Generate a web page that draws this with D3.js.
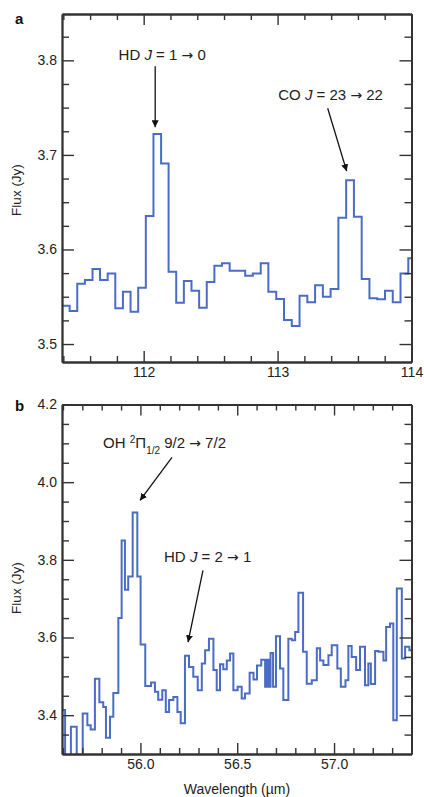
<!DOCTYPE html>
<html><head><meta charset="utf-8">
<script src="https://cdn.jsdelivr.net/npm/d3@7"></script>
<style>
html,body{margin:0;padding:0;background:#fff;}
svg{display:block;font-family:"Liberation Sans",Arial,Helvetica,sans-serif;}
</style></head>
<body>
<svg id="c" width="424" height="797"></svg>
<script>
// ---------- Panel a data (bin start wavelength, µm ; flux, Jy) ----------
const waveA = [111.390,111.447,111.504,111.561,111.618,111.674,111.731,111.788,111.845,111.902,
  111.959,112.016,112.073,112.130,112.186,112.243,112.300,112.357,112.414,112.471,112.528,112.585,
  112.642,112.699,112.758,112.815,112.874,112.931,112.990,113.048,113.106,113.164,113.222,113.280,
  113.338,113.396,113.454,113.512,113.570,113.628,113.686,113.744,113.802,113.860,113.918,113.976];
const fluxA = [3.5405,3.535,3.5638,3.5677,3.5793,3.5677,3.5747,3.5378,3.5553,3.5342,
  3.5596,3.6353,3.7222,3.691,3.5765,3.5437,3.5666,3.5564,3.5385,3.5656,3.5828,3.5853,
  3.5775,3.5775,3.5722,3.5747,3.5853,3.5553,3.5476,3.5254,3.5191,3.5511,3.5441,3.5621,
  3.5501,3.5582,3.6335,3.6733,3.6345,3.5687,3.5483,3.5473,3.5564,3.5441,3.5747,3.5906];
const waveAEnd = 114.034;

// ---------- Panel b data ----------
const waveB = [55.589,55.611,55.641,55.671,55.702,55.726,55.743,55.765,55.788,55.808,
  55.822,55.843,55.860,55.886,55.903,55.920,55.937,55.960,55.984,56.001,
  56.025,56.055,56.075,56.092,56.113,56.131,56.148,56.170,56.191,56.208,
  56.230,56.251,56.273,56.296,56.317,56.334,56.354,56.377,56.394,56.411,
  56.428,56.446,56.463,56.480,56.502,56.523,56.540,56.564,56.584,56.602,
  56.624,56.644,56.654,56.664,56.672,56.685,56.700,56.721,56.738,56.764,
  56.782,56.799,56.816,56.840,56.859,56.885,56.911,56.928,56.945,56.971,
  56.988,57.017,57.035,57.059,57.074,57.091,57.114,57.134,57.160,57.177,
  57.190,57.212,57.229,57.255,57.269,57.289,57.306,57.324,57.350,57.367,57.389];
const fluxB = [3.413,3.25,3.370,3.25,3.404,3.374,3.363,3.494,3.433,3.421,
  3.342,3.396,3.457,3.650,3.850,3.723,3.757,3.922,3.757,3.582,
  3.475,3.484,3.460,3.440,3.464,3.408,3.439,3.447,3.408,3.379,
  3.553,3.524,3.499,3.464,3.533,3.567,3.597,3.516,3.464,3.531,
  3.518,3.541,3.559,3.464,3.473,3.443,3.456,3.509,3.492,3.528,
  3.543,3.473,3.543,3.473,3.560,3.473,3.603,3.520,3.439,3.597,
  3.593,3.614,3.715,3.563,3.481,3.490,3.572,3.541,3.529,3.554,
  3.580,3.520,3.473,3.490,3.578,3.550,3.516,3.576,3.477,3.533,
  3.480,3.565,3.563,3.541,3.627,3.636,3.387,3.726,3.546,3.576,3.567];
const waveBEnd = 57.41;

// ---------- Tick values ----------
const xMajorA = [112, 113, 114];
const yMajorA = [3.5, 3.6, 3.7, 3.8];
const xMajorB = [56.0, 56.5, 57.0];
const yMajorB = [3.4, 3.6, 3.8, 4.0, 4.2];

// ---------- Annotations (data coordinates) ----------
const annA = [
  {parts:[["HD ",""],["J","i"],[" = 1 ",""],["\u2192","arr"],[" 0",""]], x:112.138, y:3.80, anchor:"middle",
   from:[112.086,3.7937], to:[112.086,3.7292]},
  {parts:[["CO ",""],["J","i"],[" = 23 ",""],["\u2192","arr"],[" 22",""]], x:113.396, y:3.7577, anchor:"middle",
   from:[113.374,3.7493], to:[113.516,3.6828]}
];
const annB = [
  {parts:[["OH ",""],["2","sup"],["\u03A0",""],["1/2","sub"],[" 9/2 ",""],["\u2192","arr"],[" 7/2",""]], x:55.807, y:4.087, anchor:"start",
   from:[56.163,4.064], to:[55.998,3.953]},
  {parts:[["HD ",""],["J","i"],[" = 2 ",""],["\u2192","arr"],[" 1",""]], x:56.122, y:3.794, anchor:"start",
   from:[56.323,3.773], to:[56.246,3.588]}
];

const svg = d3.select("#c");
const LINE = "#4a6cc6";
const AX = "#333";
const FS = 14;

svg.append("defs").append("marker")
  .attr("id","ah").attr("viewBox","0 0 10 10").attr("refX",10).attr("refY",5)
  .attr("markerWidth",7).attr("markerHeight",7).attr("markerUnits","userSpaceOnUse")
  .attr("orient","auto")
  .append("path").attr("d","M0,0 L10,5 L0,10 Z").attr("fill","#111");

function panel(cfg){
  const g = svg.append("g");
  const x = d3.scaleLinear().domain(cfg.xd).range([62, 411.5]);
  const y = d3.scaleLinear().domain(cfg.yd).range(cfg.yr);
  const [top,bot] = [cfg.yr[1], cfg.yr[0]];

  const clipId = "clip"+cfg.id;
  svg.select("defs").append("clipPath").attr("id",clipId)
    .append("rect").attr("x",62).attr("y",top).attr("width",349.5).attr("height",bot-top);

  const pts = cfg.wave.map((w,i)=>[w,cfg.flux[i]]);
  pts.push([cfg.end, cfg.flux[cfg.flux.length-1]]);
  const line = d3.line().x(d=>x(d[0])).y(d=>y(d[1])).curve(d3.curveStepAfter);
  g.append("path").attr("d",line(pts)).attr("fill","none").attr("stroke",LINE)
    .attr("stroke-width",2).attr("stroke-linejoin","miter").attr("clip-path",`url(#${clipId})`);

  const styleAxis = (sel, labels) => {
    sel.selectAll("path.domain").attr("stroke",AX).attr("stroke-width",1.8);
    sel.selectAll(".tick line").attr("stroke",AX).attr("stroke-width",1.4);
    sel.selectAll(".tick text").attr("fill","#222").style("font-size",FS+"px")
      .style("font-family",'"Liberation Sans",Arial,sans-serif');
    if(!labels) sel.selectAll(".tick text").remove();
  };
  const xMinor = cfg.xMinor.filter(v=>v>cfg.xd[0] && v<cfg.xd[1]);
  const yMinor = cfg.yMinor.filter(v=>v>cfg.yd[0] && v<cfg.yd[1]);

  // minor ticks
  g.append("g").attr("transform",`translate(0,${bot})`)
    .call(d3.axisBottom(x).tickValues(xMinor).tickSize(-6).tickSizeOuter(0).tickFormat(""))
    .call(s=>styleAxis(s,false));
  g.append("g").attr("transform",`translate(0,${top})`)
    .call(d3.axisTop(x).tickValues(xMinor).tickSize(-6).tickSizeOuter(0).tickFormat(""))
    .call(s=>styleAxis(s,false));
  g.append("g").attr("transform",`translate(62,0)`)
    .call(d3.axisLeft(y).tickValues(yMinor).tickSize(-7).tickSizeOuter(0).tickFormat(""))
    .call(s=>styleAxis(s,false));
  g.append("g").attr("transform",`translate(411.5,0)`)
    .call(d3.axisRight(y).tickValues(yMinor).tickSize(-7).tickSizeOuter(0).tickFormat(""))
    .call(s=>styleAxis(s,false));
  // major ticks
  g.append("g").attr("transform",`translate(0,${bot})`)
    .call(d3.axisBottom(x).tickValues(cfg.xMajor).tickSize(-11).tickSizeOuter(0).tickPadding(5).tickFormat(cfg.xFmt))
    .call(s=>styleAxis(s,true));
  g.append("g").attr("transform",`translate(0,${top})`)
    .call(d3.axisTop(x).tickValues(cfg.xMajor).tickSize(-11).tickSizeOuter(0).tickFormat(""))
    .call(s=>styleAxis(s,false));
  g.append("g").attr("transform",`translate(62,0)`)
    .call(d3.axisLeft(y).tickValues(cfg.yMajor).tickSize(-12).tickSizeOuter(0).tickPadding(5).tickFormat(d3.format(".1f")))
    .call(s=>styleAxis(s,true));
  g.append("g").attr("transform",`translate(411.5,0)`)
    .call(d3.axisRight(y).tickValues(cfg.yMajor).tickSize(-12).tickSizeOuter(0).tickFormat(""))
    .call(s=>styleAxis(s,false));

  // panel letter
  g.append("text").attr("x",15).attr("y",cfg.letterY).text(cfg.letter)
    .style("font-weight","bold").style("font-size","15px").attr("fill","#111");
  // y title
  g.append("text").attr("transform",`translate(21,${cfg.titleY}) rotate(-90)`)
    .attr("text-anchor","middle").style("font-size","13.5px").attr("fill","#222").text("Flux (Jy)");

  // annotations
  cfg.ann.forEach(a=>{
    const t = g.append("text").attr("x",x(a.x)).attr("y",y(a.y)).attr("text-anchor",a.anchor)
      .style("font-size","15px").attr("fill","#222");
    a.parts.forEach(p=>{
      const ts = t.append("tspan").text(p[0]);
      if(p[1]==="i") ts.style("font-style","italic");
      if(p[1]==="arr") ts.style("font-family","'DejaVu Sans',sans-serif").style("font-size","14px");
      if(p[1]==="sup") ts.attr("baseline-shift","super").style("font-size","10px");
      if(p[1]==="sub") ts.attr("baseline-shift","sub").style("font-size","10px");
    });
    g.append("line").attr("x1",x(a.from[0])).attr("y1",y(a.from[1]))
      .attr("x2",x(a.to[0])).attr("y2",y(a.to[1]))
      .attr("stroke","#111").attr("stroke-width",1.3).attr("marker-end","url(#ah)");
  });
  return {x,y};
}

panel({id:"a", xd:[111.39,114.0], yd:[3.481,3.849], yr:[362,14],
  wave:waveA, flux:fluxA, end:waveAEnd,
  xMajor:xMajorA, yMajor:yMajorA, xFmt:d3.format("d"),
  xMinor:d3.range(111.4,114.01,0.2).map(v=>+v.toFixed(2)).filter(v=>Math.abs(v-Math.round(v))>1e-6),
  yMinor:d3.range(3.475,3.86,0.025).map(v=>+v.toFixed(3)).filter(v=>Math.abs(v*10-Math.round(v*10))>1e-6),
  letter:"a", letterY:24, titleY:190, ann:annA});

panel({id:"b", xd:[55.595,57.40], yd:[3.30,4.20], yr:[754,404.5],
  wave:waveB, flux:fluxB, end:waveBEnd,
  xMajor:xMajorB, yMajor:yMajorB, xFmt:d3.format(".1f"),
  xMinor:d3.range(55.6,57.41,0.1).map(v=>+v.toFixed(2)).filter(v=>Math.abs(v*2-Math.round(v*2))>1e-6),
  yMinor:d3.range(3.30,4.21,0.05).map(v=>+v.toFixed(2)).filter(v=>Math.abs(v*5-Math.round(v*5))>1e-6),
  letter:"b", letterY:411, titleY:588, ann:annB});

svg.append("text").attr("x",237).attr("y",794).attr("text-anchor","middle")
  .style("font-size",FS+"px").attr("fill","#222").text("Wavelength (\u00B5m)");
</script>
</body></html>
